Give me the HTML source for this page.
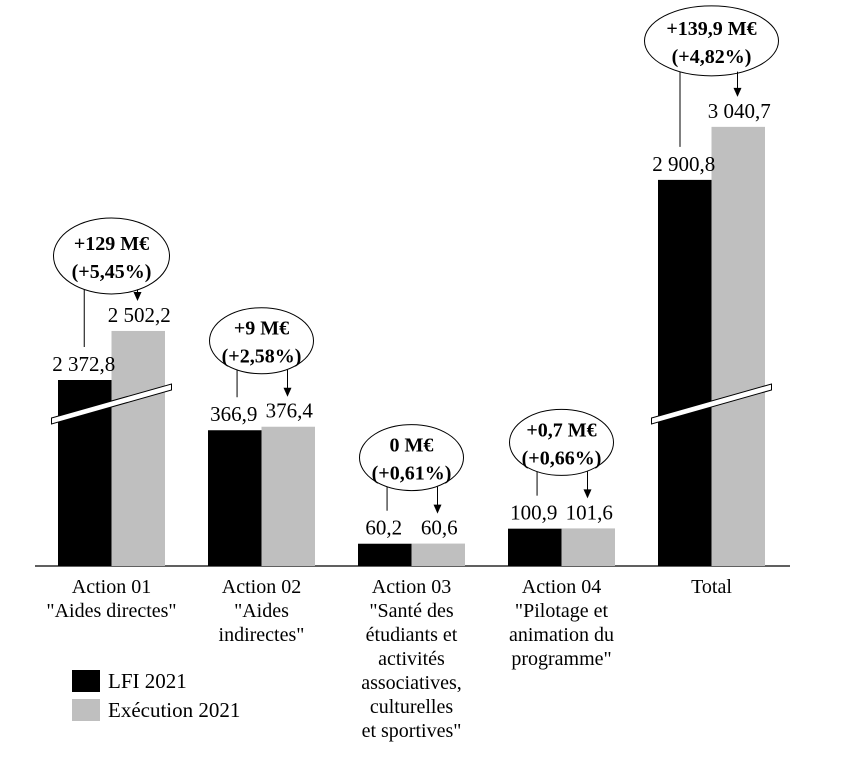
<!DOCTYPE html>
<html><head><meta charset="utf-8"><style>
body{margin:0;background:#fff}
svg{display:block;font-family:"Liberation Serif",serif}
</style></head><body>
<svg id="c" width="859" height="757" xmlns="http://www.w3.org/2000/svg"></svg>
<script>
const categories = [["Action 01","\"Aides directes\""],["Action 02","\"Aides","indirectes\""],["Action 03","\"Santé des","étudiants et","activités","associatives,","culturelles","et sportives\""],["Action 04","\"Pilotage et","animation du","programme\""],["Total"]];
const lfi = [2372.8, 366.9, 60.2, 100.9, 2900.8];
const exec = [2502.2, 376.4, 60.6, 101.6, 3040.7];
const lfiLabels = ["2 372,8","366,9","60,2","100,9","2 900,8"];
const execLabels = ["2 502,2","376,4","60,6","101,6","3 040,7"];
const diffLabels = ["+129 M€","+9 M€","0 M€","+0,7 M€","+139,9 M€"];
const pctLabels = ["(+5,45%)","(+2,58%)","(+0,61%)","(+0,66%)","(+4,82%)"];

const svg = document.getElementById('c');
const NS = "http://www.w3.org/2000/svg";
const base = 566, bw = 53.5;
function xc(i){ return 111.5 + i*150; }
function yScale(v){ // broken axis for large values
  const h = v > 1000 ? 186 + (v-2372.8)*0.379 : v*0.37;
  return base - h;
}
function mk(tag, attrs, name){
  const e = document.createElementNS(NS, tag);
  for (const k in attrs) e.setAttribute(k, attrs[k]);
  
  
  svg.appendChild(e); return e;
}
function txt(x,y,s,name,extra){
  const t = mk('text', Object.assign({x:x,y:y,'text-anchor':'middle','font-size':21,fill:'#000'}, extra||{}), name);
  t.textContent = s; return t;
}

mk('line',{x1:35,y1:base,x2:790,y2:base,stroke:'#000','stroke-width':1.2},'x-axis');

categories.forEach((cat,i)=>{
  const c = xc(i);
  const y1 = yScale(lfi[i]), y2 = yScale(exec[i]);
  mk('rect',{x:c-bw,y:y1,width:bw,height:base-y1,fill:'#000'},'bar-lfi-'+i);
  mk('rect',{x:c,y:y2,width:bw,height:base-y2,fill:'#bfbfbf'},'bar-exec-'+i);
  if (lfi[i] > 1000){
    const yb = base - 166;
    mk('polygon',{points:`${c-60},${yb+18} ${c+60},${yb-16} ${c+60},${yb-10} ${c-60},${yb+24}`,fill:'#fff',stroke:'#000','stroke-width':1},'axis-break-'+i);
  }
  txt(c-bw/2-1, y1-9, lfiLabels[i], 'label-lfi-'+i);
  txt(c+bw/2+1, y2-9, execLabels[i], 'label-exec-'+i);
  // annotation
  const ry = i===4?35:(i===0?38:33), rx = i===4?67:(i===0?58:52);
  const cy = y2 - (i===0?75:86);
  mk('ellipse',{cx:c,cy:cy,rx:rx,ry:ry,fill:'#fff',stroke:'#000','stroke-width':1},'annotation-ellipse-'+i);
  txt(c, cy-6, diffLabels[i], 'annotation-diff-'+i, {'font-weight':'bold','font-size':20});
  txt(c, cy+22, pctLabels[i], 'annotation-pct-'+i, {'font-weight':'bold','font-size':20});
  const lx = c - rx*0.47, ly = cy + ry*0.88;
  mk('line',{x1:lx,y1:ly,x2:lx,y2:y1-33,stroke:'#000','stroke-width':1},'annotation-line-'+i);
  const ax = c + 26, ay = cy + ry*0.88, aend = y2 - 30;
  mk('line',{x1:ax,y1:ay,x2:ax,y2:aend-8,stroke:'#000','stroke-width':1},'annotation-arrow-'+i);
  mk('polygon',{points:`${ax-4},${aend-9} ${ax+4},${aend-9} ${ax},${aend}`,fill:'#000'},'annotation-arrowhead-'+i);
  cat.forEach((line,j)=> txt(c, 593 + j*24, line, 'category-label-'+i, {'font-size':20}));
});

mk('rect',{x:72,y:670,width:28,height:22,fill:'#000'},'legend-swatch-lfi');
txt(108,688,'LFI 2021','legend-label-lfi',{'text-anchor':'start','font-size':21});
mk('rect',{x:72,y:699,width:28,height:22,fill:'#bfbfbf'},'legend-swatch-exec');
txt(108,717,'Exécution 2021','legend-label-exec',{'text-anchor':'start','font-size':21});
</script>
</body></html>
